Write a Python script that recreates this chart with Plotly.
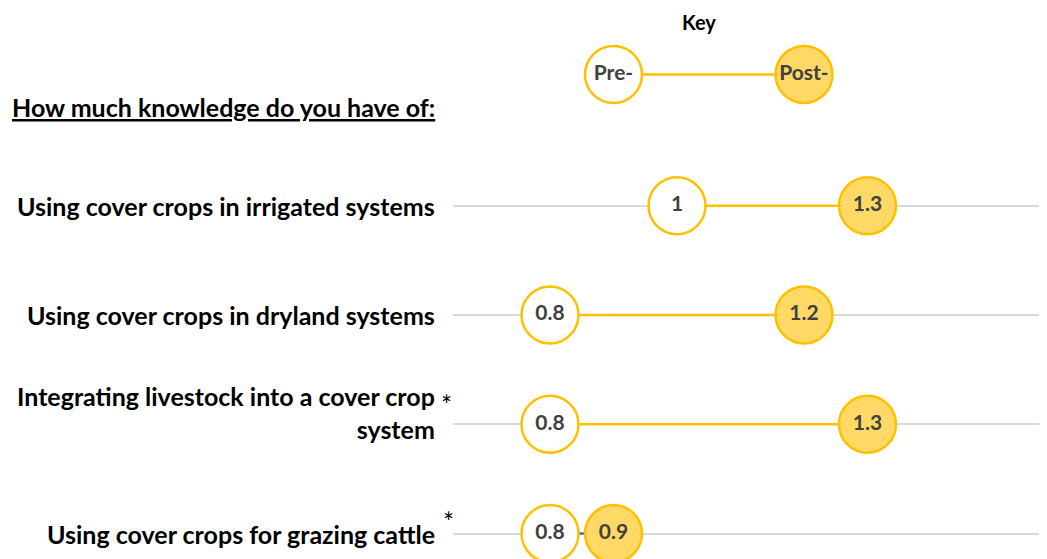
import plotly.graph_objects as go

categories = [
    "Using cover crops in irrigated systems",
    "Using cover crops in dryland systems",
    "Integrating livestock into a cover crop<br>system",
    "Using cover crops for grazing cattle",
]
pre_values = [1.0, 0.8, 0.8, 0.8]
post_values = [1.3, 1.2, 1.3, 0.9]
pre_labels = ["1", "0.8", "0.8", "0.8"]
post_labels = ["1.3", "1.2", "1.3", "0.9"]
significant = [False, False, True, True]
key_values = [0.9, 1.2]
key_labels = ["Pre-", "Post-"]
title_text = "How much knowledge do you have of:"

# page has an 8px body margin; positions below are given in window pixels minus OFF
OFF = 8
W, H = 1047, 559 - OFF
GOLD = "#FFC000"
LIGHT = "#FFD966"
TXT = "#404040"
FONT = "Lato, Carlito, Calibri, sans-serif"
rows = list(range(len(categories)))
key_y = -1.2

fig = go.Figure()

for i in rows:
    col = GOLD if post_values[i] - pre_values[i] > 0.15 else "#4472C4"
    fig.add_trace(go.Scatter(x=[pre_values[i], post_values[i]], y=[i, i], mode="lines",
                             line=dict(color=col, width=2.5), hoverinfo="skip", showlegend=False))
fig.add_trace(go.Scatter(x=key_values, y=[key_y, key_y], mode="lines",
                         line=dict(color=GOLD, width=2.5), hoverinfo="skip", showlegend=False))

mk = dict(size=57, line=dict(color=GOLD, width=2.5))
tf = dict(family=FONT, size=21, color=TXT, weight="bold")

fig.add_trace(go.Scatter(x=pre_values, y=rows, mode="markers+text", text=pre_labels,
                         textposition="middle center", textfont=tf,
                         marker=dict(color="white", **mk), showlegend=False, name="Pre"))
fig.add_trace(go.Scatter(x=post_values, y=rows, mode="markers+text", text=post_labels,
                         textposition="middle center", textfont=tf,
                         marker=dict(color=LIGHT, **mk), showlegend=False, name="Post"))
fig.add_trace(go.Scatter(x=key_values, y=[key_y, key_y], mode="markers+text", text=key_labels,
                         textposition="middle center", textfont=tf,
                         marker=dict(color=["white", LIGHT], **mk), showlegend=False))

ann = []
label_font = dict(family=FONT, size=25, color="black", weight="bold")
for i, c in enumerate(categories):
    two = "<br>" in c
    ann.append(dict(x=(437 - OFF) / W, xref="paper", y=i, yref="y", text=c, showarrow=False,
                    xanchor="right", yanchor="middle", align="right", font=label_font,
                    yshift=12 if two else 0))
    if significant[i]:
        ann.append(dict(x=((446 if two else 448) - OFF) / W, xref="paper", y=i, yref="y",
                        text="*", showarrow=False, xanchor="center", yanchor="middle",
                        font=dict(family=FONT, size=26, color="black"),
                        yshift=19 if two else 12))

ann.append(dict(x=(10 - OFF) / W, xref="paper", y=1 - (107 - OFF) / H, yref="paper",
                text="<u>" + title_text + "</u>", showarrow=False, xanchor="left",
                yanchor="middle", font=label_font))
ann.append(dict(x=1.035, xref="x", y=1 - (22 - OFF) / H, yref="paper", text="Key",
                showarrow=False, xanchor="center", yanchor="middle",
                font=dict(family=FONT, size=20, color="black", weight="bold")))

x_px0 = 452.7 - OFF
px_per_unit = 635.0
x_lo = 0.8 - (550 - OFF - x_px0) / px_per_unit
x_hi = x_lo + (W - x_px0) / px_per_unit
row_px = 109.3
row0 = 205.7 - OFF
y_top = -row0 / row_px
y_bot = (H - row0) / row_px

fig.update_layout(
    width=W, height=H, margin=dict(l=0, r=0, t=0, b=0),
    paper_bgcolor="white", plot_bgcolor="white",
    xaxis=dict(domain=[x_px0 / W, 1], range=[x_lo, x_hi], visible=False, fixedrange=True),
    yaxis=dict(range=[y_bot, y_top], tickvals=rows, showticklabels=False, showgrid=True,
               gridcolor="#d9d9d9", gridwidth=1.5, zeroline=False, showline=False, ticks=""),
    annotations=ann,
)

fig.write_html("out.html")
